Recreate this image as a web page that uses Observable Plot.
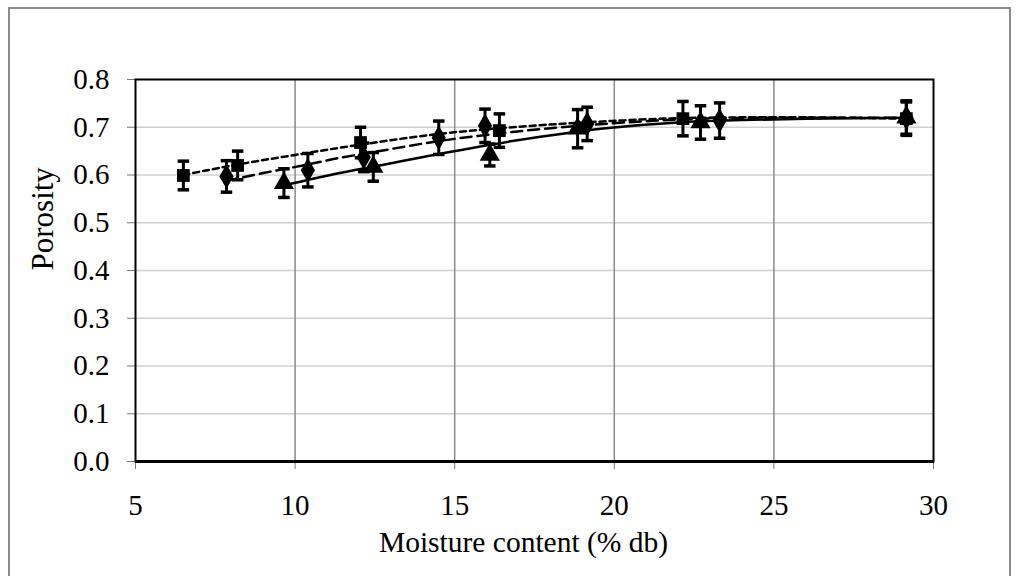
<!DOCTYPE html>
<html><head><meta charset="utf-8">
<script src="https://cdn.jsdelivr.net/npm/d3@7"></script>
<script src="https://cdn.jsdelivr.net/npm/@observablehq/plot@0.6"></script>
<style>
body{margin:0;background:#fff;}
#wrap{position:relative;width:1017px;height:576px;overflow:hidden;background:#fff;}
#border{position:absolute;left:8px;top:7px;width:1003px;height:620px;border:2px solid #8c8c8c;box-sizing:border-box;}
#chart{position:absolute;left:0;top:0;}
</style></head><body>
<div id="wrap"><div id="border"></div><div id="chart"></div></div>
<script>
// Tick values and axis titles
const xTicks = [5, 10, 15, 20, 25, 30];
const yTicks = [0, 0.1, 0.2, 0.3, 0.4, 0.5, 0.6, 0.7, 0.8];
const xTitle = ["Moisture content (% db)"];
const yTitle = ["Porosity"];

// Series: squares (short dash)
const sqX = [6.5, 8.2, 12.05, 16.4, 22.15, 29.15];
const sqY = [0.599, 0.62, 0.668, 0.693, 0.718, 0.718];
const sqE = [0.030, 0.030, 0.032, 0.035, 0.036, 0.035];
// Series: diamonds (long dash)
const dmX = [7.85, 10.4, 12.15, 14.5, 15.95, 19.15, 23.3, 29.15];
const dmY = [0.597, 0.61, 0.637, 0.678, 0.703, 0.707, 0.714, 0.72];
const dmE = [0.033, 0.035, 0.030, 0.035, 0.035, 0.035, 0.037, 0.035];
// Series: triangles (solid)
const trX = [9.65, 12.45, 16.1, 18.85, 22.7, 29.15];
const trY = [0.583, 0.617, 0.642, 0.697, 0.71, 0.72];
const trE = [0.030, 0.030, 0.023, 0.040, 0.035, 0.035];

// Fitted trend curves
const sqFitX = [6.5, 8.2, 10, 11.4, 12.0, 14.5, 16.8, 19.9, 22.0, 25, 29.15];
const sqFitY = [0.600, 0.622, 0.642, 0.657, 0.663, 0.686, 0.700, 0.713, 0.719, 0.721, 0.718];
const dmFitX = [7.85, 9, 10.4, 11.4, 12.2, 14.5, 16.8, 19.9, 22.0, 25, 29.15];
const dmFitY = [0.588, 0.604, 0.622, 0.636, 0.645, 0.671, 0.690, 0.708, 0.716, 0.720, 0.720];
const trFitX = [9.65, 11.4, 12.5, 14.5, 16.8, 19.9, 22.0, 24, 26, 29.15];
const trFitY = [0.578, 0.604, 0.618, 0.644, 0.671, 0.699, 0.710, 0.715, 0.718, 0.720];

const rows = (xs, ys, es) => xs.map((x, i) => ({x, y: ys[i], e: es ? es[i] : 0}));
const sq = rows(sqX, sqY, sqE), dm = rows(dmX, dmY, dmE), tr = rows(trX, trY, trE);
const sqFit = rows(sqFitX, sqFitY), dmFit = rows(dmFitX, dmFitY), trFit = rows(trFitX, trFitY);
const all = [...sq, ...dm, ...tr];

const cap = {draw(ctx, size) { const w = Math.sqrt(size) / 2; ctx.moveTo(-w, 0); ctx.lineTo(w, 0); }};

const plot = Plot.plot({
  width: 1017, height: 576,
  marginLeft: 135, marginRight: 84, marginTop: 79, marginBottom: 115,
  style: {fontFamily: "'Liberation Serif', 'Times New Roman', serif", fontSize: "29px", background: "transparent", color: "black"},
  x: {domain: [5, 30]},
  y: {domain: [0, 0.8]},
  marks: [
    Plot.ruleY(yTicks.filter(d => d > 0 && d < 0.8), {stroke: "#d0d0d0", strokeWidth: 1.5}),
    Plot.ruleX(xTicks.filter(d => d > 5 && d < 30), {stroke: "#8a8a8a", strokeWidth: 1.5}),
    Plot.axisY({ticks: yTicks, tickFormat: d3.format(".1f"), tickSize: 8, tickPadding: 18, stroke: "#777", fill: "black",
      label: null, fontSize: 29}),
    Plot.axisX({ticks: xTicks, tickFormat: d => d, tickSize: 8, tickPadding: 25, stroke: "#777", fill: "black",
      label: null, fontSize: 29}),
    Plot.text(xTitle, {text: d => d, frameAnchor: "bottom", dy: 90, dx: -11, fontSize: 29.5, fill: "black"}),
    Plot.text(yTitle, {text: d => d, frameAnchor: "left", dx: -92, rotate: -90, fontSize: 31, fill: "black"}),
    Plot.frame({stroke: "black", strokeWidth: 2}),
    Plot.ruleY([0], {stroke: "black", strokeWidth: 3}),
    Plot.line(trFit, {x: "x", y: "y", curve: "monotone-x", stroke: "black", strokeWidth: 2.5}),
    Plot.line(dmFit, {x: "x", y: "y", curve: "monotone-x", stroke: "black", strokeWidth: 2.5, strokeDasharray: "11,6"}),
    Plot.line(sqFit, {x: "x", y: "y", curve: "monotone-x", stroke: "black", strokeWidth: 2.5, strokeDasharray: "6,4"}),
    Plot.ruleX(all, {x: "x", y1: d => d.y - d.e, y2: d => d.y + d.e, stroke: "black", strokeWidth: 3}),
    Plot.dot(all, {x: "x", y: d => d.y - d.e, symbol: cap, r: 6.5, stroke: "black", strokeWidth: 3.5, fill: "none"}),
    Plot.dot(all, {x: "x", y: d => d.y + d.e, symbol: cap, r: 6.5, stroke: "black", strokeWidth: 3.5, fill: "none"}),
    Plot.dot(dm, {x: "x", y: "y", symbol: "diamond", r: 7.5, fill: "black", stroke: "none"}),
    Plot.dot(tr, {x: "x", y: "y", symbol: "triangle", r: 7.5, fill: "black", stroke: "none"}),
    Plot.dot(sq, {x: "x", y: "y", symbol: "square", r: 7.2, fill: "black", stroke: "none"})
  ]
});
document.getElementById("chart").appendChild(plot);
</script>
</body></html>
